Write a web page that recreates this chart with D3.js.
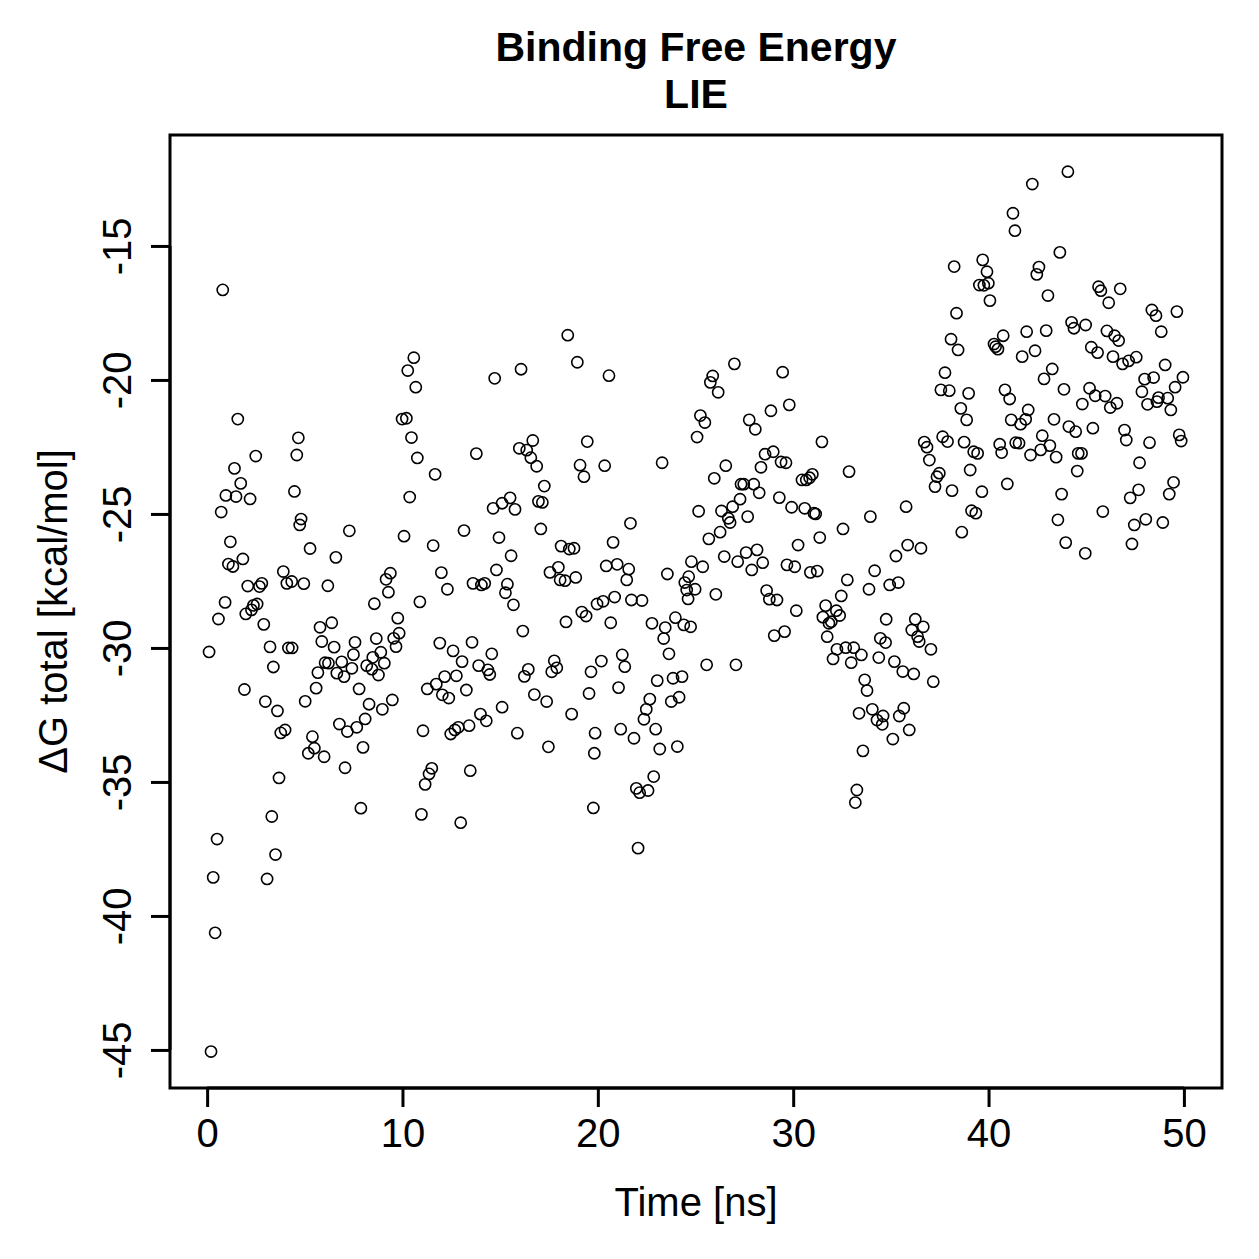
<!DOCTYPE html>
<html lang="en">
<head>
  <meta charset="UTF-8">
  <title>Binding Free Energy - LIE</title>
  <style>
    body { margin: 0; background: #fff; }
    svg text { font-family: "Liberation Sans", Arial, Helvetica, sans-serif; fill: #000; }
  </style>
</head>
<body>
  <div id="chart"></div>

  <script src="https://d3js.org/d3.v7.min.js"></script>

  <script>
    // title lines and axis labels
    var titleLines = ["Binding Free Energy", "LIE"];
    var xLabel = "Time [ns]";
    var yLabel = "\u0394G total [kcal/mol]";

    // tick values
    var xTicks = [0, 10, 20, 30, 40, 50];
    var yTicks = [-45, -40, -35, -30, -25, -20, -15];

    // [time (ns), dG total (kcal/mol)]
    var lieSamples = [
      [0.10,-30.15],[0.20,-45.06],[0.31,-38.56],[0.41,-40.63],[0.51,-37.13],[0.58,-28.92],[0.72,-24.93],[0.80,-16.64],
      [0.92,-28.30],[0.96,-24.31],[1.09,-26.87],[1.19,-26.04],[1.32,-26.96],[1.40,-23.30],[1.48,-24.35],[1.57,-21.46],
      [1.72,-23.86],[1.83,-26.68],[1.91,-31.55],[1.98,-28.73],[2.08,-27.69],[2.20,-24.44],[2.27,-28.58],[2.37,-28.41],
      [2.49,-22.84],[2.56,-28.36],[2.68,-27.71],[2.80,-27.59],[2.90,-29.12],[2.98,-32.00],[3.07,-38.62],[3.22,-29.96],
      [3.31,-36.29],[3.39,-30.71],[3.50,-37.71],[3.60,-32.35],[3.68,-34.85],[3.77,-33.17],[3.90,-27.15],[3.99,-33.06],
      [4.08,-27.59],[4.16,-30.00],[4.33,-27.52],[4.35,-30.00],[4.47,-24.16],[4.59,-22.80],[4.67,-22.16],[4.74,-25.41],
      [4.81,-25.19],[4.95,-27.60],[5.02,-31.99],
      [5.18,-33.93],[5.27,-26.29],[5.39,-33.31],[5.49,-33.74],[5.58,-31.50],[5.67,-30.92],[5.78,-29.23],[5.87,-29.76],
      [5.99,-34.06],[6.04,-30.55],[6.18,-27.68],[6.21,-30.57],[6.38,-29.06],[6.50,-29.97],[6.59,-26.62],[6.64,-30.94],
      [6.77,-32.84],[6.89,-30.52],[7.01,-31.07],[7.06,-34.47],[7.18,-33.12],[7.28,-25.63],[7.41,-30.76],[7.49,-30.25],
      [7.57,-29.79],[7.66,-32.96],[7.78,-31.53],[7.87,-35.98],[7.98,-33.71],[8.09,-32.65],[8.17,-30.66],[8.29,-32.10],
      [8.43,-30.79],[8.48,-30.35],[8.56,-28.35],[8.66,-29.65],[8.77,-31.01],[8.89,-30.16],[8.97,-32.29],[9.07,-30.57],
      [9.16,-27.44],[9.28,-27.92],[9.38,-27.21],[9.48,-31.94],[9.55,-29.64],[9.67,-29.95],[9.76,-28.89],[9.83,-29.45],
      [9.98,-21.46],[10.08,-25.83],[10.20,-21.43],[10.27,-19.65],[10.37,-24.37],[10.46,-22.15],[10.58,-19.17],[10.68,-20.27],
      [10.76,-22.91],[10.89,-28.28],[10.97,-36.21],[11.05,-33.09],[11.16,-35.09],[11.27,-31.53],[11.36,-34.70],[11.50,-34.49],
      [11.57,-26.18],[11.67,-23.52],[11.73,-31.35],[11.91,-29.82],[11.99,-27.19],[12.04,-31.75],[12.16,-31.07],[12.30,-27.81],
      [12.37,-31.87],[12.47,-33.21],[12.59,-30.11],[12.68,-33.06],[12.76,-31.04],[12.86,-32.96],[12.98,-36.52],[13.05,-30.51],
      [13.15,-25.62],[13.27,-31.57],[13.41,-32.90],[13.47,-34.58],[13.56,-29.79],[13.61,-27.59],[13.78,-22.75],[13.90,-30.66],
      [13.99,-32.47],[14.04,-27.65],[14.21,-27.59],[14.29,-32.72],[14.37,-30.82],[14.47,-30.99],[14.57,-30.22],[14.64,-24.79],
      [14.72,-19.94],[14.81,-27.09],[14.94,-25.88],[15.10,-24.60],[15.10,-32.21],
      [15.27,-27.94],[15.37,-27.62],[15.51,-24.40],[15.56,-26.56],[15.68,-28.39],[15.76,-24.83],[15.88,-33.18],[15.98,-22.55],
      [16.07,-19.60],[16.16,-29.37],[16.24,-31.06],[16.36,-22.62],[16.44,-30.80],[16.57,-22.90],[16.67,-22.26],[16.75,-31.74],
      [16.87,-23.22],[16.96,-24.53],[17.08,-25.56],[17.16,-24.57],[17.26,-23.96],[17.38,-32.00],[17.47,-33.69],[17.55,-27.18],
      [17.64,-30.89],[17.77,-30.48],[17.90,-30.74],[17.98,-26.99],[18.07,-27.46],[18.12,-26.20],[18.32,-27.49],[18.37,-29.03],
      [18.46,-18.33],[18.54,-26.31],[18.66,-32.47],[18.78,-26.28],[18.87,-27.37],[18.95,-19.34],[19.09,-23.18],[19.18,-28.66],
      [19.29,-23.61],[19.40,-28.81],[19.46,-22.30],[19.55,-31.70],[19.65,-30.89],[19.77,-35.97],[19.82,-33.93],[19.86,-33.18],
      [19.96,-28.36],
      [20.18,-30.49],[20.27,-28.26],[20.35,-23.20],[20.43,-26.94],[20.57,-19.84],[20.66,-29.06],[20.78,-26.06],[20.86,-28.10],
      [20.99,-26.88],[21.06,-31.48],[21.17,-33.03],[21.25,-30.26],[21.38,-30.70],[21.48,-27.46],[21.58,-27.06],[21.67,-25.35],
      [21.72,-28.21],[21.85,-33.37],[21.97,-35.24],[22.06,-37.47],[22.14,-35.40],[22.26,-28.23],[22.36,-32.66],[22.48,-32.29],
      [22.57,-35.32],[22.66,-31.91],[22.77,-29.08],[22.86,-34.80],[22.96,-33.03],[23.04,-31.22],[23.17,-33.77],[23.29,-23.09],
      [23.37,-29.65],[23.45,-29.24],[23.56,-27.24],[23.64,-30.22],[23.76,-32.00],[23.85,-31.13],[23.97,-28.87],[24.07,-33.68],
      [24.16,-31.84],[24.31,-31.07],[24.40,-29.14],[24.45,-27.56],[24.55,-27.84],[24.62,-28.17],[24.65,-27.34],[24.75,-29.21],
      [24.79,-26.78],[24.98,-27.81],[25.08,-22.13],[25.16,-24.90],[25.25,-21.33],
      [25.37,-26.97],[25.48,-21.59],[25.57,-30.63],[25.68,-25.93],[25.76,-20.09],[25.88,-19.85],[25.96,-23.67],[26.04,-28.00],
      [26.16,-20.46],[26.26,-25.68],[26.33,-24.89],[26.47,-26.59],[26.55,-23.20],[26.68,-25.16],[26.77,-25.32],[26.90,-24.73],
      [26.99,-19.40],[27.07,-30.63],[27.16,-26.78],[27.28,-24.45],[27.33,-23.89],[27.47,-23.89],[27.59,-26.44],[27.67,-25.10],
      [27.75,-21.49],[27.88,-27.09],[27.98,-23.89],[28.06,-21.84],[28.15,-26.34],[28.26,-24.21],[28.35,-23.26],[28.44,-26.82],
      [28.56,-22.77],[28.64,-27.86],[28.78,-28.18],[28.86,-21.15],[28.98,-22.68],[29.03,-29.54],[29.17,-28.21],[29.29,-24.39],
      [29.38,-23.06],[29.46,-19.71],[29.56,-29.39],[29.63,-23.09],[29.68,-26.90],[29.80,-20.93],[29.92,-24.75],
      [30.08,-26.97],[30.16,-28.61],[30.25,-26.16],[30.45,-23.73],[30.59,-24.79],[30.67,-23.73],[30.84,-23.65],[30.88,-27.18],
      [30.98,-23.52],[31.06,-24.97],[31.15,-25.00],[31.23,-27.13],[31.36,-25.88],[31.47,-22.31],[31.52,-28.85],[31.66,-28.42],
      [31.74,-29.58],[31.83,-29.08],[31.95,-29.02],[32.04,-30.41],[32.21,-28.61],[32.24,-30.05],[32.38,-28.79],[32.46,-28.06],
      [32.55,-25.56],[32.69,-29.99],[32.77,-27.46],[32.86,-23.42],[32.97,-30.55],[33.10,-29.99],[33.18,-35.77],[33.26,-35.30],
      [33.37,-32.44],[33.49,-30.26],[33.57,-33.84],[33.66,-31.19],[33.78,-31.59],[33.88,-27.81],[33.95,-25.10],[34.05,-32.29],
      [34.17,-27.12],[34.29,-32.69],[34.38,-30.36],[34.46,-29.64],[34.56,-32.85],[34.60,-32.54],[34.73,-29.80],[34.76,-28.93],
      [34.94,-27.65],
      [35.10,-33.40],[35.18,-30.51],[35.26,-26.57],[35.38,-27.56],[35.43,-32.54],[35.61,-30.88],[35.66,-32.25],[35.78,-24.73],
      [35.86,-26.16],[35.94,-33.06],[36.07,-29.33],[36.17,-30.97],[36.25,-28.93],[36.37,-29.58],[36.45,-29.76],[36.54,-26.28],
      [36.66,-29.21],[36.71,-22.32],[36.85,-22.51],[36.97,-22.99],[37.05,-30.05],[37.17,-31.26],[37.26,-23.98],[37.36,-23.61],
      [37.48,-23.48],[37.56,-20.37],[37.65,-22.12],[37.77,-19.73],[37.90,-22.30],[37.99,-20.40],[38.08,-18.48],[38.13,-24.13],
      [38.24,-15.77],[38.36,-17.51],[38.44,-18.88],[38.58,-21.06],[38.63,-25.68],[38.75,-22.32],[38.88,-21.49],[38.98,-20.50],
      [39.06,-23.36],[39.13,-24.88],[39.24,-22.68],[39.35,-24.97],[39.44,-22.74],[39.53,-16.46],[39.66,-24.17],[39.70,-15.52],
      [39.76,-16.47],[39.92,-15.96],[39.99,-16.39],[40.07,-17.04],
      [40.28,-18.66],[40.36,-18.76],[40.48,-18.85],[40.57,-22.40],[40.67,-22.71],[40.75,-18.35],[40.84,-20.37],[40.96,-23.88],
      [41.08,-20.71],[41.16,-21.49],[41.25,-13.78],[41.35,-14.43],[41.39,-22.34],[41.56,-22.36],[41.64,-21.65],[41.72,-19.13],
      [41.90,-21.47],[41.95,-18.20],[42.03,-21.12],[42.15,-22.80],[42.24,-12.69],[42.38,-18.91],[42.47,-16.06],[42.58,-15.79],
      [42.67,-22.61],[42.75,-22.08],[42.84,-19.96],[42.95,-18.16],[43.04,-16.85],[43.14,-22.45],[43.26,-19.59],[43.35,-21.47],
      [43.46,-22.88],[43.55,-25.22],[43.65,-15.24],[43.74,-24.26],[43.86,-20.35],[43.95,-26.07],[44.06,-12.23],[44.11,-21.74],
      [44.25,-17.85],[44.37,-18.07],[44.46,-21.93],[44.54,-23.40],[44.59,-22.74],[44.76,-22.74],[44.80,-20.90],[44.95,-26.47],
      [44.97,-17.95],
      [45.17,-20.31],[45.26,-18.78],[45.34,-21.80],[45.46,-20.59],[45.58,-18.98],[45.63,-16.52],[45.75,-16.67],[45.85,-24.91],
      [45.97,-20.60],[46.06,-18.17],[46.15,-17.12],[46.23,-21.03],[46.37,-19.13],[46.45,-18.35],[46.57,-20.87],[46.66,-18.53],
      [46.74,-16.60],[46.86,-19.40],[46.96,-21.87],[47.05,-22.24],[47.17,-19.29],[47.25,-24.40],[47.34,-26.12],[47.46,-25.41],
      [47.56,-19.15],[47.68,-24.10],[47.73,-23.09],[47.85,-20.44],[47.99,-19.97],[48.05,-25.20],[48.14,-20.91],[48.24,-22.34],
      [48.36,-17.39],[48.45,-19.91],[48.57,-17.60],[48.62,-20.81],[48.70,-20.66],[48.84,-18.20],[48.92,-25.32],[49.04,-19.44],
      [49.17,-20.68],[49.25,-24.26],[49.33,-21.12],[49.47,-23.82],[49.55,-20.27],[49.64,-17.45],[49.76,-22.05],[49.86,-22.28],
      [49.95,-19.90]
    ];

    // plot box inside the 1259 x 1259 page
    var box = {left: 170, right: 1222, top: 135, bottom: 1088};

    var svg = d3.select("#chart")
      .append("svg")
      .attr("width", 1259)
      .attr("height", 1259);

    // R-style ranges: data range padded by 4% each side
    var x = d3.scaleLinear()
      .domain([-1.9, 51.95])
      .range([box.left, box.right]);

    var y = d3.scaleLinear()
      .domain([-46.42, -10.86])
      .range([box.bottom, box.top]);

    // x axis
    var xAxis = svg.append("g")
      .attr("transform", "translate(0," + box.bottom + ")")
      .call(d3.axisBottom(x).tickValues(xTicks).tickSize(19).tickPadding(12).tickFormat(d3.format("d")));
    xAxis.select(".domain").attr("d", "M" + x(0) + ",0H" + x(50));

    // y axis, labels turned like R's las=0
    var yAxis = svg.append("g")
      .attr("transform", "translate(" + box.left + ",0)")
      .call(d3.axisLeft(y).tickValues(yTicks).tickSize(19).tickFormat(function(d) { return d; }));
    yAxis.select(".domain").attr("d", "M0," + y(-45) + "V" + y(-15));
    yAxis.selectAll(".tick text")
      .attr("x", null).attr("dy", null)
      .attr("text-anchor", "middle")
      .attr("transform", "translate(-39,0) rotate(-90)");

    svg.selectAll(".domain, .tick line")
      .attr("stroke", "#000")
      .attr("stroke-width", 3);
    svg.selectAll(".tick text")
      .style("font-size", "40px")
      .attr("fill", "#000");
    xAxis.selectAll(".tick text").attr("dy", "0.71em");

    // frame
    svg.append("rect")
      .attr("x", box.left)
      .attr("y", box.top)
      .attr("width", box.right - box.left)
      .attr("height", box.bottom - box.top)
      .attr("fill", "none")
      .attr("stroke", "#000")
      .attr("stroke-width", 3);

    // points
    svg.append("g")
      .selectAll("circle")
      .data(lieSamples)
      .enter()
      .append("circle")
      .attr("cx", function(d) { return x(d[0]); })
      .attr("cy", function(d) { return y(d[1]); })
      .attr("r", 5.6)
      .attr("fill", "none")
      .attr("stroke", "#000")
      .attr("stroke-width", 1.6);

    // title
    svg.append("g")
      .selectAll("text")
      .data(titleLines)
      .enter()
      .append("text")
      .attr("x", (box.left + box.right) / 2)
      .attr("y", function(d, i) { return 61 + i * 47; })
      .attr("text-anchor", "middle")
      .style("font-size", "41px")
      .style("font-weight", "bold")
      .text(function(d) { return d; });

    // axis titles
    svg.append("text")
      .attr("x", (box.left + box.right) / 2)
      .attr("y", 1216)
      .attr("text-anchor", "middle")
      .style("font-size", "40px")
      .text(xLabel);

    svg.append("text")
      .attr("transform", "translate(67," + (box.top + box.bottom) / 2 + ") rotate(-90)")
      .attr("text-anchor", "middle")
      .style("font-size", "40px")
      .text(yLabel);
  </script>
</body>
</html>
